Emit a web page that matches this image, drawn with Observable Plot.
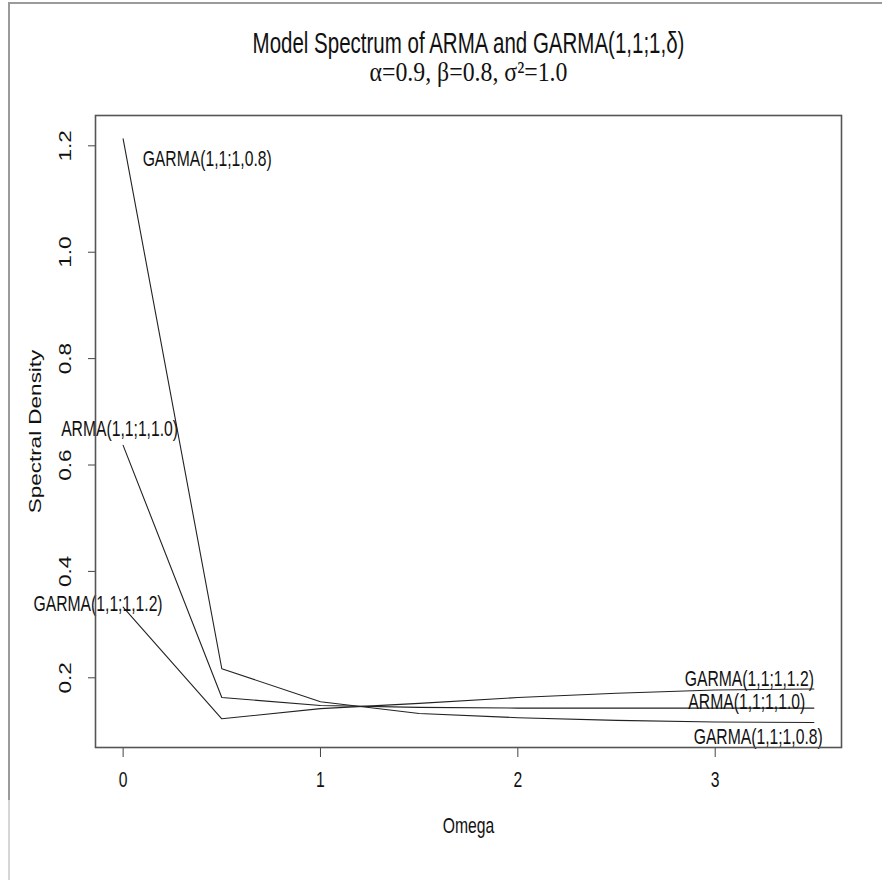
<!DOCTYPE html>
<html>
<head>
<meta charset="utf-8">
<script src="https://cdn.jsdelivr.net/npm/d3@7"></script>
<script src="https://cdn.jsdelivr.net/npm/@observablehq/plot@0.6"></script>
<style>
  html, body { margin: 0; padding: 0; background: #fff; }
  #wrap { position: relative; width: 882px; height: 880px; overflow: hidden; }
  #topline { position: absolute; left: 8px; top: 2px; width: 874px; height: 2px; background: #9a9a9a; }
  #leftline { position: absolute; left: 8px; top: 2px; width: 2px; height: 798px; background: #9a9a9a; }
  #leftline2 { position: absolute; left: 8px; top: 800px; width: 2px; height: 80px; background: #d6d6d6; }
  #chart { position: absolute; left: 0; top: 0; }
</style>
</head>
<body>
<div id="wrap">
  <div id="chart"></div>
  <div id="topline"></div>
  <div id="leftline"></div>
  <div id="leftline2"></div>
</div>
<script>
// ---- data ----
const omega   = [0, 0.5, 1, 1.5, 2, 2.5, 3, 3.5];
const garma08 = [1.213, 0.217, 0.155, 0.133, 0.125, 0.120, 0.117, 0.116];
const arma10  = [0.637, 0.163, 0.148, 0.1445, 0.143, 0.143, 0.143, 0.143];
const garma12 = [0.333, 0.123, 0.142, 0.152, 0.163, 0.171, 0.177, 0.179];

const seriesNames = ["GARMA(1,1;1,0.8)", "ARMA(1,1;1,1.0)", "GARMA(1,1;1,1.2)"];

// curve labels (data coordinates of label centres)
const labelText = ["GARMA(1,1;1,0.8)", "ARMA(1,1;1,1.0)", "GARMA(1,1;1,1.2)",
                   "GARMA(1,1;1,1.2)", "ARMA(1,1;1,1.0)", "GARMA(1,1;1,0.8)"];
const labelX = [0.426, -0.018, -0.127, 3.173, 3.16, 3.218];
const labelY = [1.176, 0.669, 0.340, 0.198, 0.154, 0.090];

const xTicks = [0, 1, 2, 3];
const yTicks = [0.2, 0.4, 0.6, 0.8, 1.0, 1.2];

const titleText = "Model Spectrum of ARMA and GARMA(1,1;1,δ)";
const subtitleText = "α=0.9, β=0.8, σ²=1.0";
const xLabel = "Omega";
const yLabel = "Spectral Density";

// ---- tables ----
const series = [garma08, arma10, garma12];
const lines = series.flatMap((vals, i) =>
  vals.map((v, j) => ({ series: seriesNames[i], x: omega[j], y: v })));
const labels = labelText.map((t, i) => ({ text: t, x: labelX[i], y: labelY[i] }));
const yTickText = yTicks.map(d => d.toFixed(1));

const SANS = "'Liberation Sans', Arial, Helvetica, sans-serif";
const H = 22.5;   // glyph size along the vertical direction
const W = 15.7;   // glyph size along the horizontal direction

const chart = Plot.plot({
  width: 882,
  height: 880,
  marginLeft: 95,
  marginRight: 41,
  marginTop: 115,
  marginBottom: 133,
  style: { fontFamily: SANS, fontSize: H + "px", color: "#111", background: "transparent" },
  x: { domain: [-0.14, 3.64], axis: null },
  y: { domain: [0.069, 1.257], axis: null },
  marks: [
    Plot.axisX(xTicks, { tickSize: 10, tickPadding: 14, tickFormat: d => String(d), fontSize: H, stroke: "#444", label: null }),
    Plot.axisY(yTicks, { tickSize: 7, tickFormat: () => "", stroke: "#444", label: null }),
    Plot.text(yTicks, { y: d => d, frameAnchor: "left", dx: -30, rotate: -90, textAnchor: "middle",
      text: (d, i) => yTickText[i], fontSize: W, fill: "#111" }),
    Plot.line(lines, { x: "x", y: "y", z: "series", stroke: "#222", strokeWidth: 1.1 }),
    Plot.text(labels, { x: "x", y: "y", text: "text", fontSize: H, fill: "#111" }),
    Plot.frame({ stroke: "#555", strokeWidth: 1.6 }),
    Plot.text([xLabel], { frameAnchor: "bottom", dy: 85, text: d => d, fontSize: H, fill: "#111" }),
    Plot.text([yLabel], { frameAnchor: "left", dx: -60, rotate: -90, textAnchor: "middle",
      text: d => d, fontSize: W, fill: "#111" }),
    Plot.text([titleText], { frameAnchor: "top", dy: -84, text: d => d, fontSize: 30, fill: "#111" }),
    Plot.text([subtitleText], { frameAnchor: "top", dy: -54, text: d => d, fontSize: 28, fill: "#111",
      fontFamily: "'Liberation Serif', 'Times New Roman', serif" })
  ]
});
document.getElementById("chart").appendChild(chart);

// The reference is squeezed horizontally: horizontal text is narrow,
// rotated text has thin glyphs but full length. Scale each text along
// its own direction about its (centred) anchor.
const vertical = new Set([yLabel, ...yTickText]);
chart.querySelectorAll("text").forEach(el => {
  const s = el.textContent;
  const L = el.getComputedTextLength();
  if (!L) return;
  let k;
  if (s === titleText) k = 432 / L;
  else if (s === subtitleText) k = 198 / L;
  else if (vertical.has(s)) k = H / W;
  else k = W / H;
  const x0 = parseFloat(el.getAttribute("x")) || 0;
  const t = el.getAttribute("transform") || "";
  el.setAttribute("transform",
    `${t} translate(${x0},0) scale(${k.toFixed(4)},1) translate(${-x0},0)`.trim());
});
</script>
</body>
</html>
